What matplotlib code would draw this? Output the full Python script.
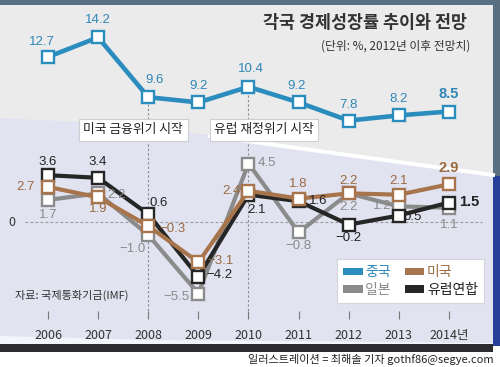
import matplotlib
matplotlib.use("Agg")
import matplotlib.pyplot as plt
from matplotlib.patches import Rectangle, Polygon
from matplotlib.lines import Line2D

plt.rcParams['font.family'] = ['Noto Sans CJK KR', 'DejaVu Sans']

# ---------------- data ----------------
years = ['2006', '2007', '2008', '2009', '2010', '2011', '2012', '2013', '2014년']
china = [12.7, 14.2, 9.6, 9.2, 10.4, 9.2, 7.8, 8.2, 8.5]
usa = [2.7, 1.9, -0.3, -3.1, 2.4, 1.8, 2.2, 2.1, 2.9]
japan = [1.7, 2.2, -1.0, -5.5, 4.5, -0.8, 2.2, 1.2, 1.1]
eu = [3.6, 3.4, 0.6, -4.2, 2.1, 1.6, -0.2, 0.5, 1.5]
series_names = ['중국', '미국', '일본', '유럽연합']
events = ['미국 금융위기 시작', '유럽 재정위기 시작']
event_idx = [2, 4]

# ---------------- styles ----------------
C_CHINA = '#2b8cbe'
C_USA = '#a8744b'
C_JAPAN = '#8b8b8b'
C_EU = '#262626'
T_CHINA = '#2f86b6'
T_USA = '#9a6a40'
T_JAPAN = '#8a8a8a'
T_EU = '#222222'

W, H = 500, 367
fig = plt.figure(figsize=(W / 100, H / 100), dpi=100)
fig.patch.set_facecolor('white')


def fp(x, y):
    return (x / W, 1 - y / H)


def frect(x0, y0, x1, y1, color, z=-5):
    fig.patches.append(Rectangle(fp(x0, y1), (x1 - x0) / W, (y1 - y0) / H,
                                 transform=fig.transFigure, facecolor=color,
                                 edgecolor='none', zorder=z))


# background panels
frect(0, 0, 500, 6, '#587082', -6)
frect(0, 5, 493, 346, '#ebebec', -5)
fig.patches.append(Polygon([fp(0, 118), fp(120, 124), fp(250, 140), fp(493, 175),
                            fp(493, 344), fp(0, 344)], closed=True,
                           transform=fig.transFigure, facecolor='#e2e3f1',
                           edgecolor='none', zorder=-4))
fig.lines.append(Line2D([fp(210, 136)[0], fp(493, 175)[0]],
                        [fp(210, 136)[1], fp(493, 175)[1]],
                        transform=fig.transFigure, color='white', lw=2.8, zorder=-3))
frect(493, 0, 500, 176, '#587082', -5)
frect(493, 176, 500, 346, '#26409a', -5)
fig.patches.append(Polygon([fp(0, 336), fp(150, 340), fp(493, 343), fp(493, 346),
                            fp(0, 346)], closed=True, transform=fig.transFigure,
                           facecolor='#f4f5fa', edgecolor='none', zorder=-3))
frect(0, 344, 493, 352, '#2d2d31', -3)

# ---------------- axes ----------------
# pixel mapping: x = 48 + 50.125*i ; y = 222 - 13*v
ax = fig.add_axes([0, (H - 315) / H, 1, 315 / H])
ax.set_facecolor('none')
ax.set_xlim(-48 / 50.125, (500 - 48) / 50.125)
ax.set_ylim((222 - 315) / 13, 222 / 13)
for s in ax.spines.values():
    s.set_visible(False)
ax.set_yticks([])
x = list(range(len(years)))
ax.set_xticks(x)
ax.set_xticklabels(years, fontsize=9, color='#333333')
ax.tick_params(axis='x', direction='inout', length=6, width=0.8, color='#777777', pad=7)

# zero line and event lines
ax.plot([-0.45, 8.65], [0, 0], ls=(0, (2.5, 2)), color='#999999', lw=0.8, zorder=1)
ax.text(-0.72, 0, '0', fontsize=9, style='italic', color='#333333', va='center', ha='center')
ax.vlines(event_idx, (222 - 315) / 13, [china[i] for i in event_idx],
          colors='#8a8a8a', linestyles=(0, (2, 2)), lw=0.8, zorder=1)
for lab, i, dx in zip(events, event_idx, [-0.30, 0.31]):
    ax.text(i + dx, (222 - 130) / 13, lab, fontsize=9.2, color='#222222',
            ha='center', va='center', zorder=3,
            bbox=dict(boxstyle='square,pad=0.35', fc='white', ec='#cfcfcf', lw=0.8))

mk = dict(marker='s', markersize=8, markerfacecolor='white', markeredgewidth=1.7)
ax.plot(x, japan, color=C_JAPAN, lw=3, zorder=4, markeredgecolor=C_JAPAN, **mk)
ax.plot(x, eu, color=C_EU, lw=3, zorder=5, markeredgecolor=C_EU, **mk)
ax.plot(x, usa, color=C_USA, lw=3, zorder=6, markeredgecolor=C_USA, **mk)
ax.plot(x, china, color=C_CHINA, lw=3.3, zorder=6, markeredgecolor=C_CHINA, **mk)


def fmt(v):
    s = f'{abs(v):.1f}'
    return ('−' + s) if v < 0 else s


def labels(vals, offs, color, bold_last=True):
    for i, (v, (dx, dy)) in enumerate(zip(vals, offs)):
        last = bold_last and i == len(vals) - 1
        ax.annotate(fmt(v), (i, v), xytext=(dx, dy), textcoords='offset pixels',
                    ha='center', va='center', color=color,
                    fontsize=10.5 if last else 9.5,
                    fontweight='bold' if last else 'normal',
                    family=['Liberation Sans', 'DejaVu Sans'], zorder=8)


labels(china, [(-6, 15), (0, 17), (6, 17), (0, 16), (2, 18), (-2, 16), (0, 16), (0, 16), (0, 17)], T_CHINA)
labels(usa, [(-22, 0), (0, -12), (24, -3), (22, 1), (-17, 0), (0, 15), (0, 12), (0, 14), (0, 16)], T_USA)
labels(eu, [(0, 13), (0, 16), (10, 11), (21, 2), (8, -15), (20, 0), (0, -13), (14, -2), (20, 1)], T_EU)
labels(japan, [(0, -15), (18, -2), (-16, -14), (-22, -4), (18, 0), (0, -14), (0, -14), (-17, 0), (0, -17)],
       T_JAPAN, bold_last=False)

# legend
handles = [Rectangle((0, 0), 1, 1, fc=c, ec='none') for c in [C_CHINA, C_JAPAN, C_USA, C_EU]]
names = [series_names[0], series_names[2], series_names[1], series_names[3]]
leg = ax.legend(handles, names, ncol=2, loc='upper left',
                bbox_to_anchor=fp(337, 259), bbox_transform=fig.transFigure,
                borderaxespad=0, fontsize=10, handlelength=1.4, handleheight=0.45,
                handletextpad=0.2, columnspacing=1.0, labelspacing=0.25,
                borderpad=0.45, fancybox=False, framealpha=1, edgecolor='#d6d6d6',
                labelcolor=[T_CHINA, T_JAPAN, T_USA, T_EU])
leg.get_frame().set_linewidth(0.8)
leg.set_zorder(9)

# titles and notes
fig.text(fp(365, 23)[0], fp(365, 23)[1], '각국 경제성장률 추이와 전망', fontsize=12.5,
         fontweight='bold', color='#333333', ha='center', va='center')
fig.text(fp(470, 46)[0], fp(470, 46)[1], '(단위: %, 2012년 이후 전망치)', fontsize=8.5,
         color='#333333', ha='right', va='center')
fig.text(fp(15, 295)[0], fp(15, 295)[1], '자료: 국제통화기금(IMF)', fontsize=8,
         color='#333333', ha='left', va='center')
fig.text(fp(494, 359)[0], fp(494, 359)[1], '일러스트레이션 = 최해솔 기자 gothf86@segye.com',
         fontsize=8, color='#222222', ha='right', va='center')

fig.savefig('out.png', dpi=100, facecolor=fig.get_facecolor())
